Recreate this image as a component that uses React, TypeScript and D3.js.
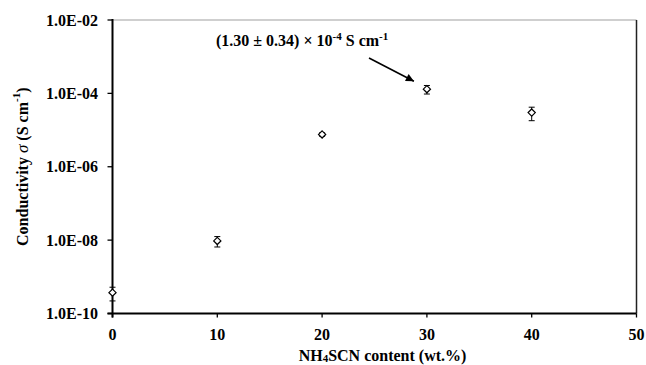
import React from "react";
import * as d3 from "d3";

// NH4SCN content (wt.%) and measured conductivity (S cm^-1) with errors
const contents = [0, 10, 20, 30, 40];
const conductivity = [3.7e-10, 9.5e-9, 7.6e-6, 1.3e-4, 3.0e-5];
const errors = [1.5e-10, 3.0e-9, 0.8e-6, 0.34e-4, 1.2e-5];
const xTicks = [0, 10, 20, 30, 40, 50];
const yTicks = [1e-10, 1e-8, 1e-6, 1e-4, 1e-2];

const W = 646;
const H = 365;
const left = 112.5;
const right = 636.5;
const top = 20;
const bottom = 313.5;

const font = "'Liberation Serif', 'Times New Roman', serif";
const fs = 16;
const sup = 11;

function fmtSci(v: number) {
  const e = Math.round(Math.log10(v));
  const sign = e < 0 ? "-" : "+";
  return `1.0E${sign}${String(Math.abs(e)).padStart(2, "0")}`;
}

export default function App() {
  const x = d3.scaleLinear().domain([0, 50]).range([left, right]);
  const y = d3.scaleLog().domain([1e-10, 1e-2]).range([bottom, top]);

  const peak = 3; // index of the annotated sample
  const arrowStart: [number, number] = [369, 58];
  const arrowEnd: [number, number] = [x(contents[peak]) - 13, y(conductivity[peak]) - 8];

  return (
    <svg
      width={W}
      height={H}
      style={{ position: "absolute", left: 0, top: 0, background: "#fff" }}
      fontFamily={font}
    >
      <defs>
        <marker
          id="arrowHead"
          viewBox="0 0 10 10"
          refX="10"
          refY="5"
          markerWidth="9"
          markerHeight="8"
          markerUnits="userSpaceOnUse"
          orient="auto"
        >
          <path d="M0,0 L10,5 L0,10 z" fill="#000" />
        </marker>
      </defs>

      {/* plot frame: light top edge, dark right edge */}
      <line x1={left} x2={right} y1={top} y2={top} stroke="#a0a0a0" strokeWidth={1.2} />
      <line x1={right} x2={right} y1={top} y2={bottom} stroke="#222" strokeWidth={1.5} />

      {/* y axis */}
      <line x1={left} x2={left} y1={top - 1} y2={bottom + 4} stroke="#000" strokeWidth={2} />
      {yTicks.map((t) => (
        <g key={t}>
          <line x1={left - 5} x2={left} y1={y(t)} y2={y(t)} stroke="#000" strokeWidth={1.3} />
          <text
            x={98}
            y={y(t)}
            textAnchor="end"
            dominantBaseline="central"
            fontSize={fs}
            fontWeight="bold"
          >
            {fmtSci(t)}
          </text>
        </g>
      ))}

      {/* x axis */}
      <line x1={left - 5} x2={right} y1={bottom} y2={bottom} stroke="#000" strokeWidth={2} />
      {xTicks.map((t) => (
        <g key={t}>
          <line x1={x(t)} x2={x(t)} y1={bottom} y2={bottom + 4} stroke="#000" strokeWidth={1.3} />
          <text
            x={x(t)}
            y={334}
            textAnchor="middle"
            dominantBaseline="central"
            fontSize={fs}
            fontWeight="bold"
          >
            {t}
          </text>
        </g>
      ))}

      {/* error bars and diamond markers */}
      {contents.map((c, i) => {
        const cx = x(c);
        const cy = y(conductivity[i]);
        const yHi = y(conductivity[i] + errors[i]);
        const yLo = y(conductivity[i] - errors[i]);
        const cap = 3;
        const r = 3.6;
        return (
          <g key={c}>
            <line x1={cx} x2={cx} y1={yHi} y2={yLo} stroke="#000" strokeWidth={1} />
            <line x1={cx - cap} x2={cx + cap} y1={yHi} y2={yHi} stroke="#000" strokeWidth={1} />
            <line x1={cx - cap} x2={cx + cap} y1={yLo} y2={yLo} stroke="#000" strokeWidth={1} />
            <path
              d={`M${cx},${cy - r} L${cx + r},${cy} L${cx},${cy + r} L${cx - r},${cy} Z`}
              fill="#fff"
              stroke="#000"
              strokeWidth={1.2}
            />
          </g>
        );
      })}

      {/* annotation of the peak conductivity */}
      <text x={216} y={46} fontSize={fs} fontWeight="bold">
        (1.30 ± 0.34) × 10
        <tspan dy={-6} fontSize={sup}>-4</tspan>
        <tspan dy={6}> S cm</tspan>
        <tspan dy={-6} fontSize={sup}>-1</tspan>
      </text>
      <line
        x1={arrowStart[0]}
        y1={arrowStart[1]}
        x2={arrowEnd[0]}
        y2={arrowEnd[1]}
        stroke="#000"
        strokeWidth={1.6}
        markerEnd="url(#arrowHead)"
      />

      {/* axis titles */}
      <text x={(left + right) / 2 + 8} y={355} textAnchor="middle" dominantBaseline="central" fontSize={fs} fontWeight="bold">
        NH<tspan dy={3} fontSize={sup}>4</tspan>
        <tspan dy={-3}>SCN content (wt.%)</tspan>
      </text>
      <text
        transform={`translate(22,${(top + bottom) / 2}) rotate(-90)`}
        textAnchor="middle"
        dominantBaseline="central"
        fontSize={fs}
        fontWeight="bold"
      >
        Conductivity <tspan fontStyle="italic" fontWeight="normal" fontSize={17}>σ</tspan> (S cm
        <tspan dy={-6} fontSize={sup}>-1</tspan>
        <tspan dy={6}>)</tspan>
      </text>
    </svg>
  );
}
